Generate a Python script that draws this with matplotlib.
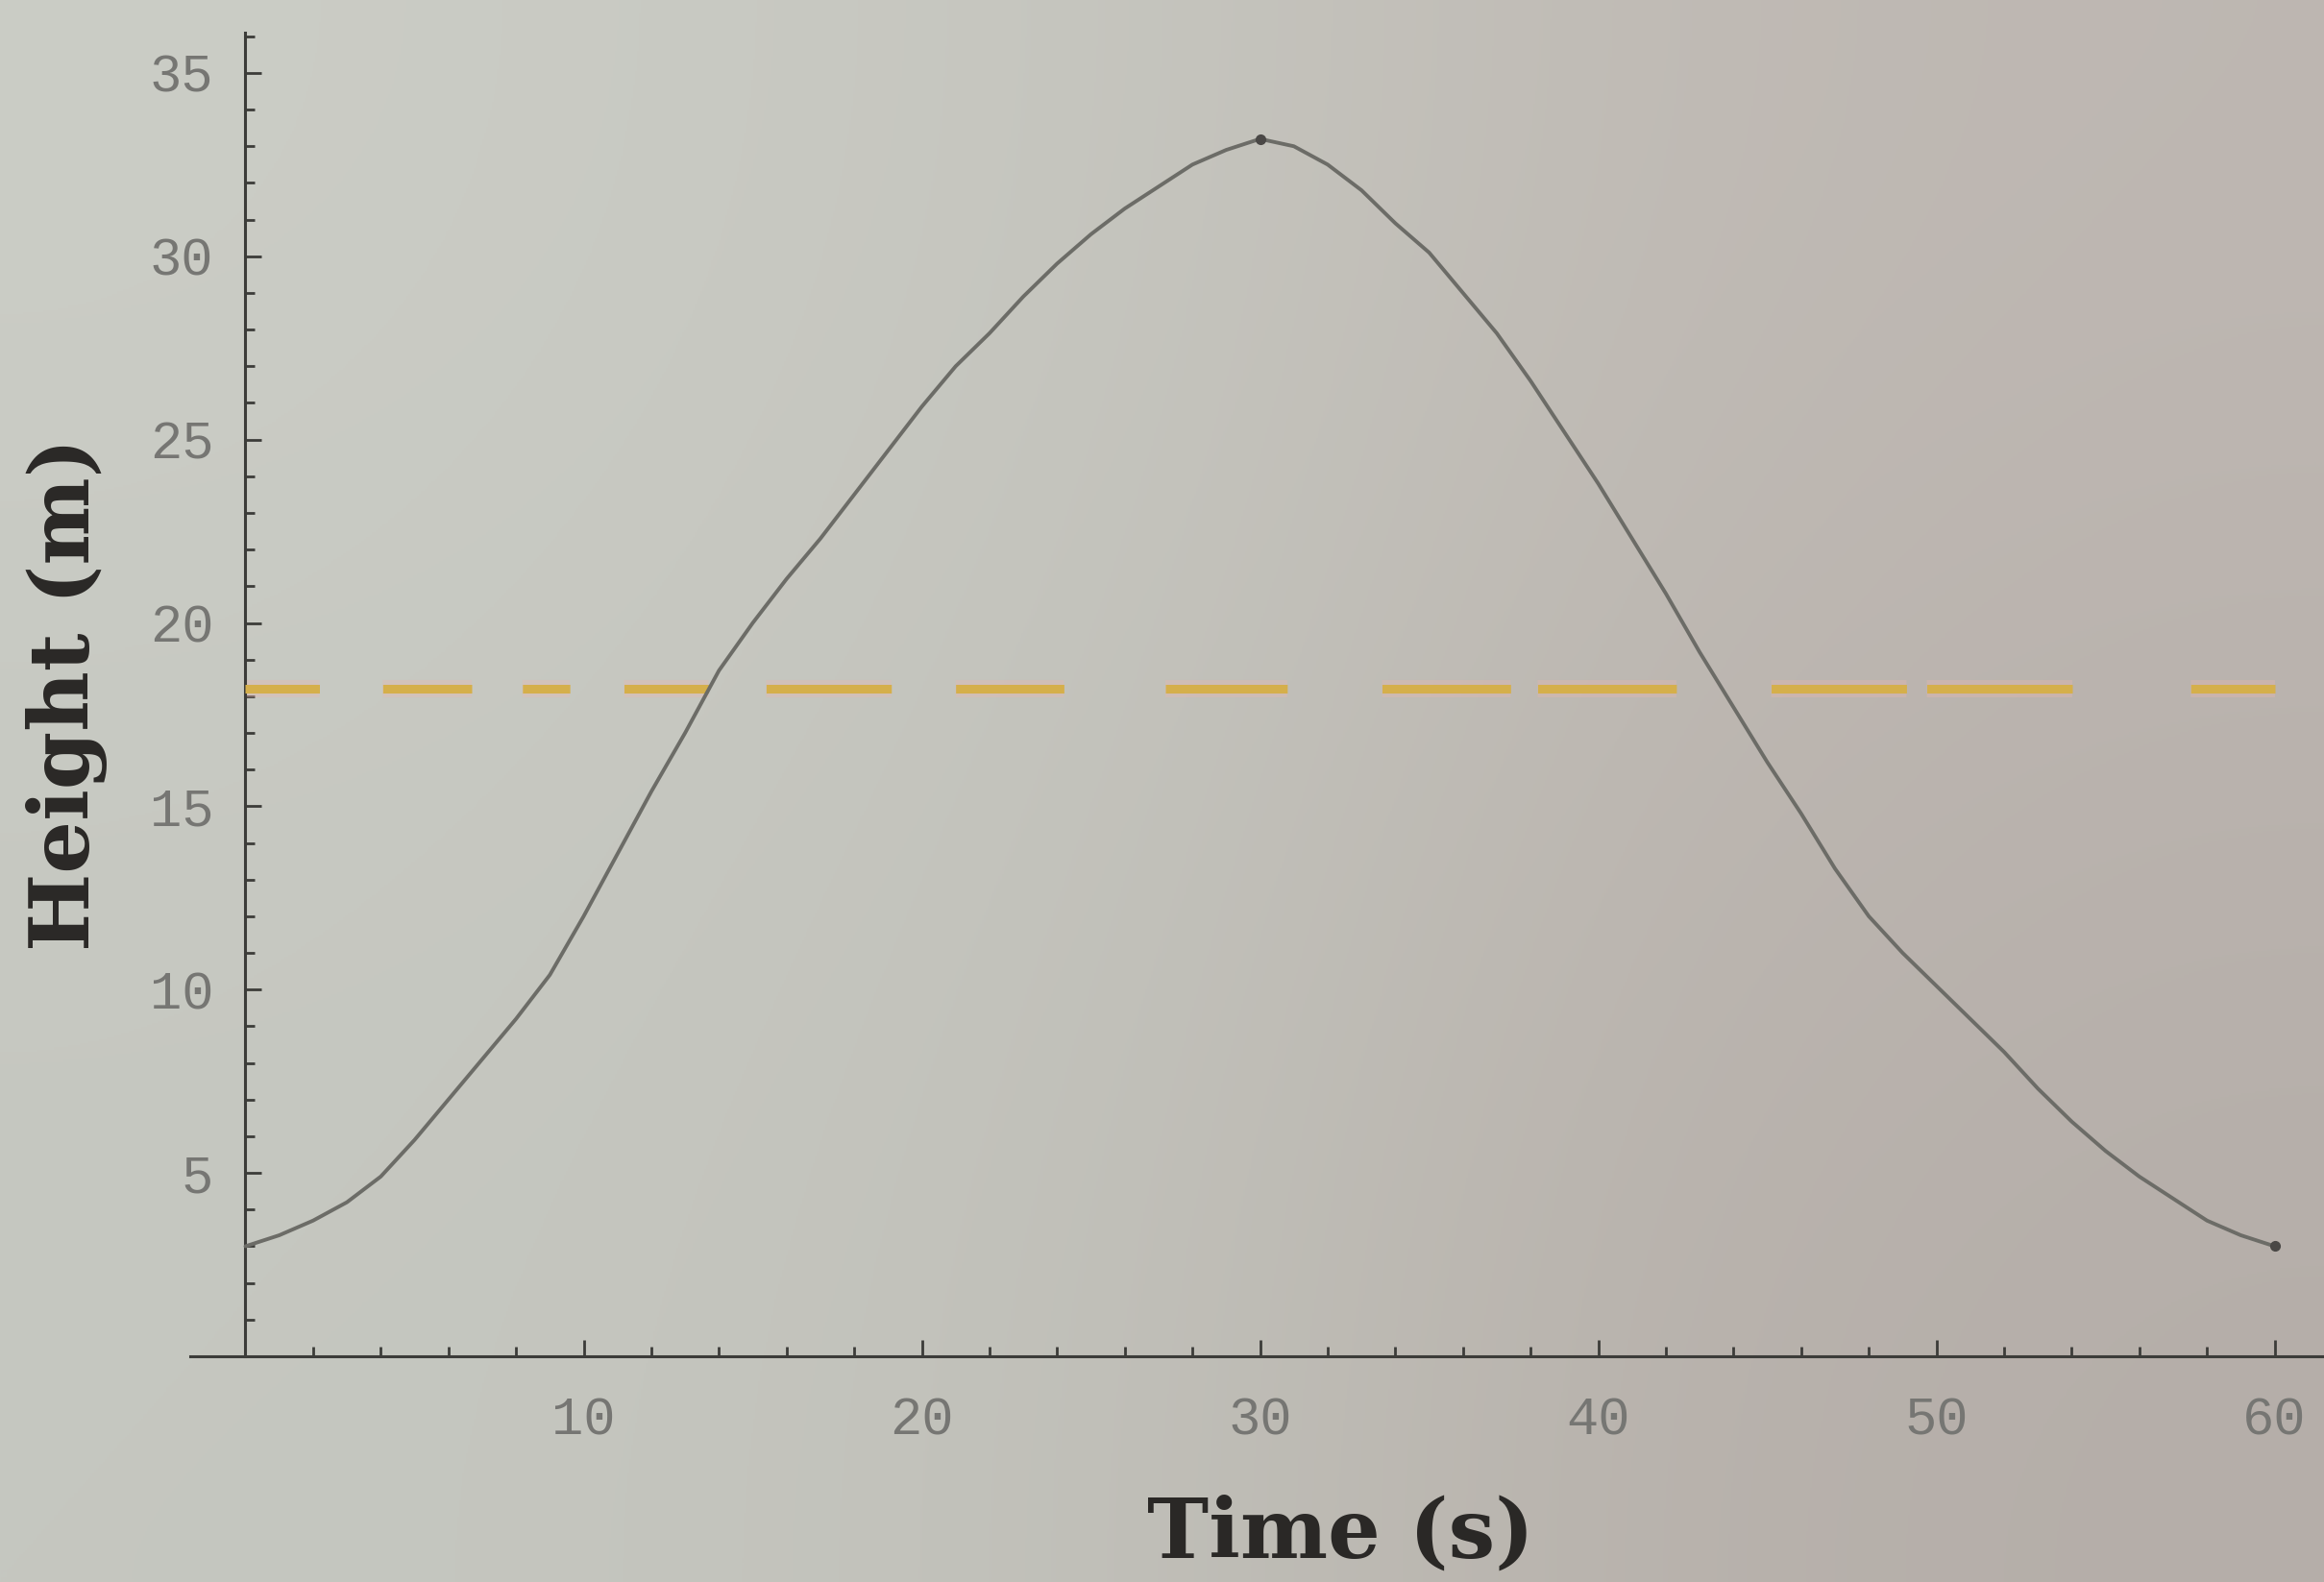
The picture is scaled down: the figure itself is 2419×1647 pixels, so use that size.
import numpy as np
import matplotlib
matplotlib.use("Agg")
import matplotlib.pyplot as plt
from matplotlib.ticker import MultipleLocator, FixedLocator

# ---- data ----
time_s = list(range(0, 61))
height_m = [3.0, 3.3, 3.7, 4.2, 4.9, 5.9, 7.0, 8.1, 9.2, 10.4,
            12.0, 13.7, 15.4, 17.0, 18.7, 20.0, 21.2, 22.3, 23.5, 24.7,
            25.9, 27.0, 27.9, 28.9, 29.8, 30.6, 31.3, 31.9, 32.5, 32.9,
            33.2, 33.0, 32.5, 31.8, 30.9, 30.1, 29.0, 27.9, 26.6, 25.2,
            23.8, 22.3, 20.8, 19.2, 17.7, 16.2, 14.8, 13.3, 12.0, 11.0,
            10.1, 9.2, 8.3, 7.3, 6.4, 5.6, 4.9, 4.3, 3.7, 3.3, 3.0]
avg_height = 18.2
x_ticks = [10, 20, 30, 40, 50, 60]
y_ticks = [5, 10, 15, 20, 25, 30, 35]
x_label = "Time (s)"
y_label = "Height (m)"

plt.rcParams['lines.scale_dashes'] = False

W, H, DPI = 2419, 1647, 100
fig = plt.figure(figsize=(W / DPI, H / DPI), dpi=DPI)

# photographic paper-like background
bg = fig.add_axes([0, 0, 1, 1], zorder=-10)
bg.set_axis_off()
cols = np.array([
    [[203, 205, 198], [201, 202, 195], [197, 197, 190], [192, 187, 181], [190, 183, 178]],
    [[199, 201, 194], [198, 199, 192], [194, 194, 187], [188, 182, 176], [185, 178, 173]],
    [[197, 199, 192], [196, 197, 190], [192, 191, 184], [184, 178, 172], [181, 174, 169]],
], dtype=float) / 255.0
bg.imshow(cols, aspect='auto', interpolation='bicubic', extent=[0, 1, 0, 1])
bg.set_xlim(0, 1)
bg.set_ylim(0, 1)

ax = fig.add_axes([0.0819, 0.1427, 0.9181, 0.9794 - 0.1427])
ax.patch.set_alpha(0)
ax.set_xlim(-1.63, 61.46)
ax.set_ylim(0, 36.1)

spine_col = '#3c3c39'
for s in ['top', 'right']:
    ax.spines[s].set_visible(False)
ax.spines['left'].set_position(('data', 0))
ax.spines['left'].set_color(spine_col)
ax.spines['bottom'].set_color(spine_col)
ax.spines['left'].set_linewidth(2.2)
ax.spines['bottom'].set_linewidth(2.2)

ax.xaxis.set_major_locator(FixedLocator(x_ticks))
ax.xaxis.set_minor_locator(MultipleLocator(2))
ax.yaxis.set_major_locator(FixedLocator(y_ticks))
ax.yaxis.set_minor_locator(MultipleLocator(1))

ax.tick_params(axis='both', which='both', direction='in', colors=spine_col,
               labelcolor='#767673', width=2.0)
ax.tick_params(axis='both', which='major', length=12)
ax.tick_params(axis='both', which='minor', length=7)
ax.tick_params(axis='x', which='major', pad=30)
ax.tick_params(axis='y', which='major', pad=24)

for lab in ax.get_xticklabels() + ax.get_yticklabels():
    lab.set_fontfamily('Liberation Mono')
    lab.set_fontsize(40)

# dashed average line (irregular dash pattern as in the original print)
unit = 25.36  # points per second along x
on = [2.2, 2.63, 1.4, 2.5, 3.7, 3.2, 3.6, 3.8, 4.1, 4.0, 4.3, 2.7]
off = [1.87, 1.5, 1.6, 1.7, 1.9, 3.0, 2.8, 0.8, 2.8, 0.6, 3.5, 2.0]
seq = []
for a, b in zip(on, off):
    seq += [a * unit, b * unit]
ax.hlines(avg_height, time_s[0], time_s[-1], colors='#e9b7ad', linewidth=13,
          linestyles=[(0, tuple(seq))], alpha=0.35, zorder=2)
ax.hlines(avg_height, time_s[0], time_s[-1], colors='#d5af4b', linewidth=6.5,
          linestyles=[(0, tuple(seq))], zorder=3)

# height curve
i_peak = int(np.argmax(height_m))
ax.plot(time_s, height_m, color='#6c6c67', linewidth=2.8, zorder=4,
        solid_joinstyle='round', solid_capstyle='round')
ax.plot([time_s[i_peak], time_s[-1]], [height_m[i_peak], height_m[-1]],
        linestyle='none', marker='o', markersize=7, color='#4a4846', zorder=5)

ax.set_xlabel(x_label, fontfamily='DejaVu Serif', fontweight='bold',
              fontsize=62, color='#2a2826')
ax.set_ylabel(y_label, fontfamily='DejaVu Serif', fontweight='bold',
              fontsize=62, color='#2a2826')
ax.xaxis.label.set_va('center')
ax.yaxis.label.set_va('center')
ax.xaxis.set_label_coords(0.539, -0.135)
ax.yaxis.set_label_coords(-0.058, 0.50)

fig.savefig('out.png', dpi=DPI)
